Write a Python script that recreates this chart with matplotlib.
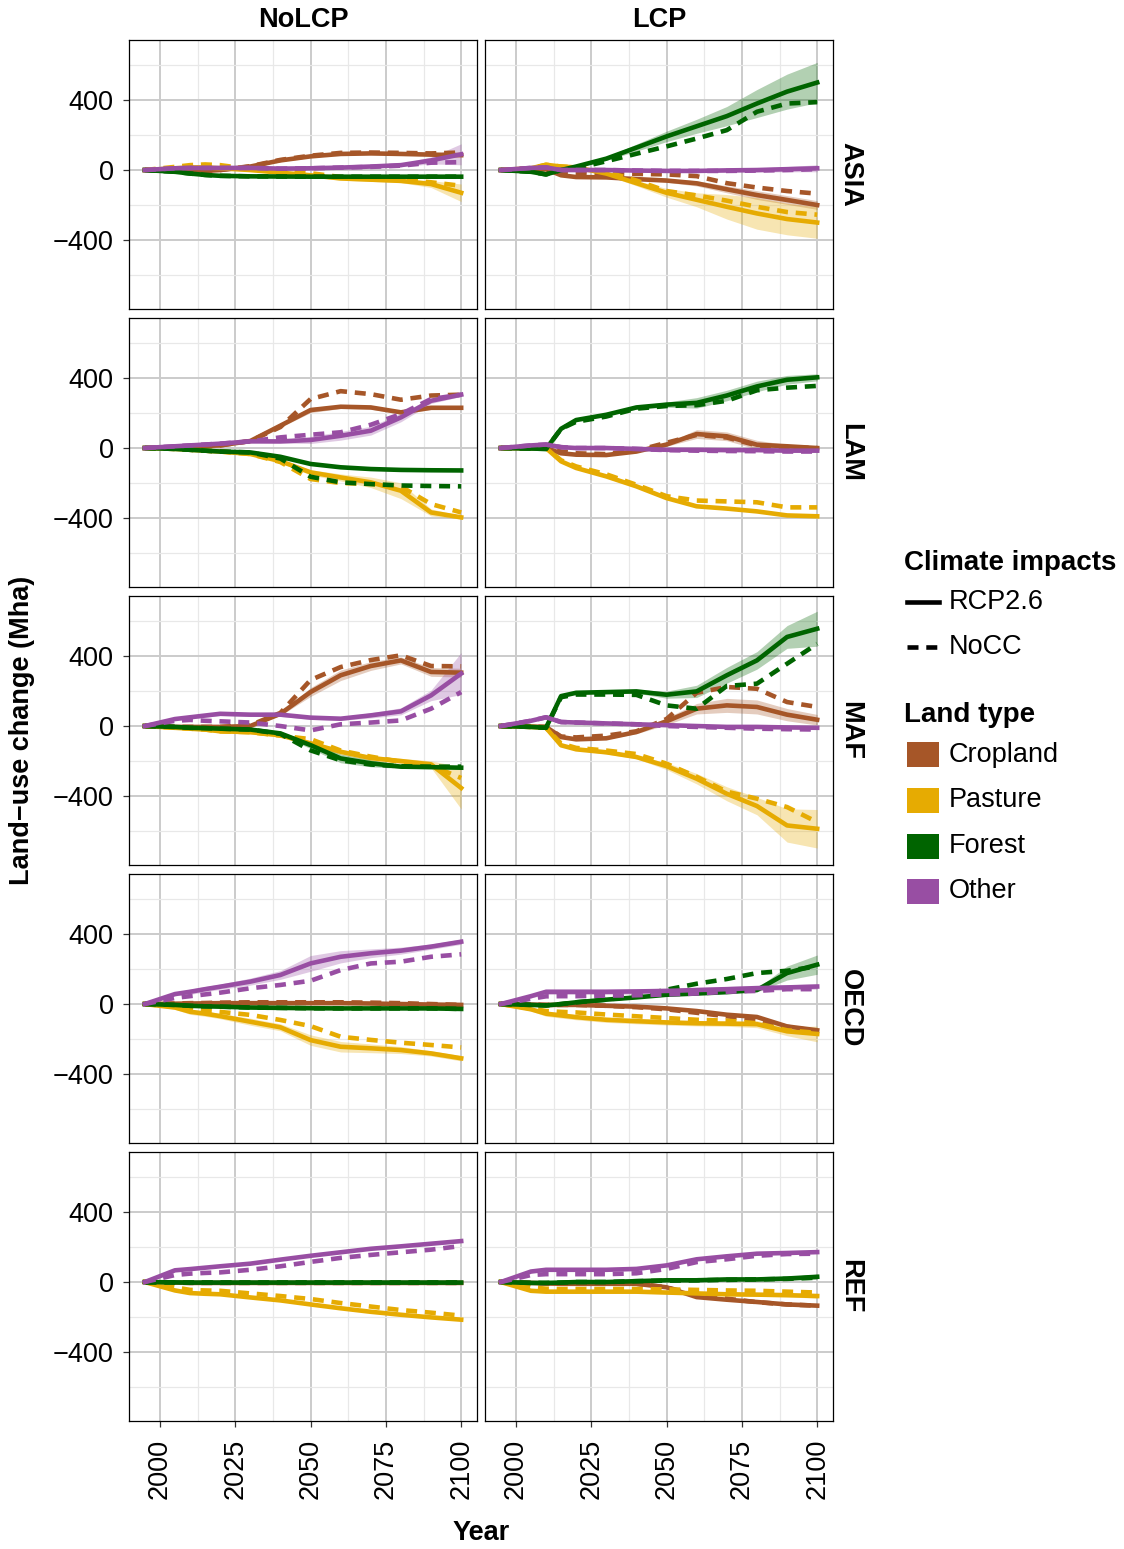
import matplotlib
matplotlib.use("Agg")
import matplotlib.pyplot as plt
from matplotlib.lines import Line2D
from matplotlib.patches import Rectangle

plt.rcParams['font.family'] = ['Liberation Sans', 'DejaVu Sans']

years = [1995, 2005, 2010, 2015, 2020, 2030, 2040, 2050, 2060, 2070, 2080, 2090, 2100]
regions = ["ASIA", "LAM", "MAF", "OECD", "REF"]
policies = ["NoLCP", "LCP"]
land_types = ["Cropland", "Pasture", "Forest", "Other"]
land_colors = ["#A65628", "#E6AB02", "#006400", "#984EA3"]
climates = ["RCP2.6", "NoCC"]

# values in Mha, keyed by (land type, climate)
asia_nolcp = {
    ("Cropland", "RCP2.6"): [0, 0, -5, -5, 0, 20, 55, 78, 92, 95, 92, 88, 85],
    ("Cropland", "NoCC"):   [0, 0, -5, -5, 0, 22, 58, 82, 98, 100, 98, 95, 100],
    ("Pasture", "RCP2.6"):  [0, 10, 15, 15, 10, 0, -15, -30, -48, -55, -62, -80, -130],
    ("Pasture", "NoCC"):    [0, 18, 28, 32, 28, 5, -8, -18, -40, -50, -55, -70, -90],
    ("Forest", "RCP2.6"):   [0, -10, -20, -28, -33, -36, -37, -38, -38, -38, -38, -38, -38],
    ("Forest", "NoCC"):     [0, -10, -20, -28, -33, -36, -37, -38, -38, -38, -38, -38, -38],
    ("Other", "RCP2.6"):    [0, 10, 12, 12, 12, 12, 8, 10, 14, 20, 28, 55, 90],
    ("Other", "NoCC"):      [0, 10, 12, 12, 12, 12, 8, 10, 14, 18, 25, 42, 45],
}
asia_lcp = {
    ("Cropland", "RCP2.6"): [0, 5, 5, -30, -40, -42, -52, -60, -76, -110, -143, -171, -200],
    ("Cropland", "NoCC"):   [0, 5, 5, -10, -15, -20, -22, -25, -35, -75, -100, -120, -135],
    ("Pasture", "RCP2.6"):  [0, 10, 30, 20, 15, -20, -75, -130, -170, -210, -248, -280, -300],
    ("Pasture", "NoCC"):    [0, 10, 30, 20, 15, -10, -60, -120, -145, -175, -210, -240, -255],
    ("Forest", "RCP2.6"):   [0, -10, -25, 0, 20, 65, 128, 192, 250, 308, 380, 448, 500],
    ("Forest", "NoCC"):     [0, -10, -25, 0, 10, 50, 93, 135, 180, 228, 333, 380, 388],
    ("Other", "RCP2.6"):    [0, 12, 15, 0, 0, 0, -3, -5, -5, -2, 0, 5, 10],
    ("Other", "NoCC"):      [0, 12, 15, 0, 0, 0, -3, -5, -5, -5, -3, 0, 5],
}
lam_nolcp = {
    ("Cropland", "RCP2.6"): [0, 5, 10, 12, 15, 40, 128, 217, 236, 232, 204, 230, 230],
    ("Cropland", "NoCC"):   [0, 5, 10, 12, 15, 40, 120, 280, 325, 308, 276, 300, 305],
    ("Pasture", "RCP2.6"):  [0, -5, -10, -15, -20, -34, -75, -139, -168, -196, -244, -368, -396],
    ("Pasture", "NoCC"):    [0, -5, -10, -15, -20, -34, -80, -177, -200, -205, -220, -320, -368],
    ("Forest", "RCP2.6"):   [0, -5, -10, -15, -20, -25, -50, -91, -110, -120, -125, -127, -128],
    ("Forest", "NoCC"):     [0, -5, -10, -15, -20, -25, -60, -164, -196, -206, -214, -217, -219],
    ("Other", "RCP2.6"):    [0, 10, 15, 20, 25, 38, 38, 46, 70, 99, 175, 270, 305],
    ("Other", "NoCC"):      [0, 10, 15, 20, 25, 38, 61, 76, 90, 133, 194, 280, 305],
}
lam_lcp = {
    ("Cropland", "RCP2.6"): [0, 0, 0, -30, -38, -40, -20, 20, 80, 67, 19, 10, 0],
    ("Cropland", "NoCC"):   [0, 0, 0, -20, -30, -35, -15, 30, 75, 60, 15, 5, 0],
    ("Pasture", "RCP2.6"):  [0, 0, 0, -76, -114, -162, -219, -286, -333, -346, -362, -385, -390],
    ("Pasture", "NoCC"):    [0, 0, 0, -70, -105, -150, -210, -275, -300, -305, -310, -339, -339],
    ("Forest", "RCP2.6"):   [0, -3, -5, 110, 160, 190, 232, 248, 258, 300, 352, 390, 404],
    ("Forest", "NoCC"):     [0, -3, -5, 110, 150, 180, 225, 240, 245, 270, 330, 345, 355],
    ("Other", "RCP2.6"):    [0, 15, 20, 5, 0, 0, -5, -10, -10, -12, -12, -15, -15],
    ("Other", "NoCC"):      [0, 15, 20, 5, 0, 0, -5, -12, -15, -17, -18, -20, -20],
}
maf_nolcp = {
    ("Cropland", "RCP2.6"): [0, -5, -5, -5, -5, 0, 70, 194, 290, 343, 375, 309, 305],
    ("Cropland", "NoCC"):   [0, -5, -5, -5, -5, 5, 75, 263, 337, 377, 404, 343, 341],
    ("Pasture", "RCP2.6"):  [0, -10, -15, -20, -30, -35, -53, -99, -147, -183, -200, -219, -354],
    ("Pasture", "NoCC"):    [0, -10, -15, -20, -30, -35, -55, -75, -140, -175, -205, -225, -297],
    ("Forest", "RCP2.6"):   [0, -5, -10, -12, -15, -20, -42, -109, -185, -213, -232, -235, -238],
    ("Forest", "NoCC"):     [0, -5, -10, -12, -15, -20, -45, -139, -196, -220, -230, -232, -232],
    ("Other", "RCP2.6"):    [0, 40, 50, 60, 70, 65, 65, 48, 42, 61, 84, 175, 300],
    ("Other", "NoCC"):      [0, 30, 35, 30, 27, 20, 0, -25, 10, 20, 32, 99, 194],
}
maf_lcp = {
    ("Cropland", "RCP2.6"): [0, -3, -5, -63, -76, -70, -34, 27, 99, 118, 109, 65, 36],
    ("Cropland", "NoCC"):   [0, -3, -5, -60, -65, -55, -30, 40, 190, 223, 213, 137, 109],
    ("Pasture", "RCP2.6"):  [0, -5, -10, -110, -133, -150, -177, -229, -301, -387, -457, -568, -587],
    ("Pasture", "NoCC"):    [0, -5, -10, -100, -125, -140, -160, -215, -290, -375, -415, -463, -549],
    ("Forest", "RCP2.6"):   [0, -5, -10, 171, 190, 194, 198, 179, 198, 290, 375, 509, 556],
    ("Forest", "NoCC"):     [0, -5, -10, 165, 180, 180, 178, 118, 99, 229, 242, 356, 470],
    ("Other", "RCP2.6"):    [0, 30, 50, 23, 20, 15, 10, 5, 0, -5, -5, -8, -10],
    ("Other", "NoCC"):      [0, 30, 50, 23, 20, 15, 10, 0, -5, -10, -15, -18, -20],
}
oecd_nolcp = {
    ("Cropland", "RCP2.6"): [0, 2, 3, 4, 5, 5, 5, 5, 5, 3, 0, -3, -5],
    ("Cropland", "NoCC"):   [0, 3, 5, 6, 8, 10, 10, 10, 10, 8, 5, 0, -5],
    ("Pasture", "RCP2.6"):  [0, -20, -44, -55, -69, -101, -133, -206, -244, -253, -263, -282, -310],
    ("Pasture", "NoCC"):    [0, -15, -30, -38, -45, -62, -91, -126, -187, -205, -221, -234, -248],
    ("Forest", "RCP2.6"):   [0, -5, -10, -13, -15, -20, -22, -24, -25, -25, -25, -25, -28],
    ("Forest", "NoCC"):     [0, -5, -10, -13, -15, -20, -22, -24, -25, -25, -25, -25, -28],
    ("Other", "RCP2.6"):    [0, 57, 70, 85, 99, 128, 166, 232, 270, 290, 305, 328, 356],
    ("Other", "NoCC"):      [0, 35, 45, 55, 65, 90, 109, 133, 194, 232, 242, 270, 284],
}
oecd_lcp = {
    ("Cropland", "RCP2.6"): [0, -3, -5, -5, -5, -10, -15, -25, -40, -61, -74, -128, -150],
    ("Cropland", "NoCC"):   [0, -3, -5, -5, -5, -10, -18, -30, -50, -70, -90, -130, -155],
    ("Pasture", "RCP2.6"):  [0, -30, -55, -65, -75, -90, -98, -105, -110, -112, -115, -156, -171],
    ("Pasture", "NoCC"):    [0, -25, -40, -45, -48, -60, -70, -80, -90, -95, -110, -150, -165],
    ("Forest", "RCP2.6"):   [0, -5, -8, 0, 10, 25, 38, 53, 60, 68, 80, 177, 225],
    ("Forest", "NoCC"):     [0, -5, -8, 0, 10, 25, 45, 82, 116, 143, 177, 190, 215],
    ("Other", "RCP2.6"):    [0, 45, 70, 70, 70, 70, 72, 75, 80, 85, 91, 95, 100],
    ("Other", "NoCC"):      [0, 30, 44, 45, 45, 48, 50, 55, 60, 70, 75, 85, 85],
}
ref_nolcp = {
    ("Cropland", "RCP2.6"): [0, -3, -5, -5, -5, -5, -5, -5, -5, -5, -5, -5, -5],
    ("Cropland", "NoCC"):   [0, -3, -5, -5, -5, -5, -5, -5, -5, -5, -5, -5, -5],
    ("Pasture", "RCP2.6"):  [0, -48, -63, -67, -70, -88, -105, -128, -150, -170, -187, -202, -215],
    ("Pasture", "NoCC"):    [0, -30, -45, -48, -50, -65, -80, -97, -120, -140, -160, -175, -192],
    ("Forest", "RCP2.6"):   [0, -2, -3, -3, -3, -3, -3, -3, -3, -3, -3, -3, -3],
    ("Forest", "NoCC"):     [0, 0, 0, 0, 0, 0, 0, 0, 0, 0, 0, 0, 0],
    ("Other", "RCP2.6"):    [0, 67, 74, 82, 90, 105, 128, 150, 170, 190, 204, 219, 234],
    ("Other", "NoCC"):      [0, 40, 48, 52, 55, 70, 90, 115, 138, 155, 170, 185, 206],
}
ref_lcp = {
    ("Cropland", "RCP2.6"): [0, -5, -8, -10, -10, -10, -10, -30, -86, -101, -114, -128, -135],
    ("Cropland", "NoCC"):   [0, -5, -8, -10, -10, -10, -10, -30, -75, -95, -115, -128, -135],
    ("Pasture", "RCP2.6"):  [0, -50, -55, -55, -55, -55, -55, -60, -65, -70, -72, -75, -80],
    ("Pasture", "NoCC"):    [0, -30, -38, -40, -40, -40, -40, -42, -45, -48, -50, -55, -60],
    ("Forest", "RCP2.6"):   [0, -5, -5, -3, 0, 0, 5, 10, 10, 15, 15, 20, 30],
    ("Forest", "NoCC"):     [0, -5, -5, -3, 0, 0, 5, 8, 10, 12, 15, 18, 25],
    ("Other", "RCP2.6"):    [0, 60, 70, 70, 70, 70, 75, 95, 130, 147, 162, 166, 171],
    ("Other", "NoCC"):      [0, 40, 45, 45, 45, 45, 50, 75, 114, 130, 150, 160, 162],
}

# half width of the uncertainty band around the RCP2.6 lines
bands = {
    ("ASIA", "NoLCP", "Pasture"): [0, 5, 5, 5, 5, 5, 5, 8, 10, 10, 10, 20, 50],
    ("ASIA", "NoLCP", "Other"):   [0, 5, 5, 5, 5, 5, 5, 5, 5, 5, 8, 20, 60],
    ("ASIA", "LCP", "Forest"):    [0, 3, 5, 5, 5, 10, 20, 30, 40, 55, 80, 100, 115],
    ("ASIA", "LCP", "Cropland"):  [0, 3, 3, 5, 5, 5, 5, 10, 15, 20, 25, 25, 25],
    ("ASIA", "LCP", "Pasture"):   [0, 3, 5, 5, 5, 10, 15, 25, 40, 70, 90, 90, 90],
    ("ASIA", "LCP", "Other"):     [0, 3, 3, 3, 3, 5, 5, 5, 8, 10, 12, 15, 20],
    ("LAM", "NoLCP", "Cropland"): [0, 3, 3, 3, 3, 5, 10, 15, 10, 10, 10, 10, 10],
    ("LAM", "NoLCP", "Other"):    [0, 3, 3, 3, 3, 5, 10, 20, 25, 25, 25, 15, 10],
    ("LAM", "NoLCP", "Pasture"):  [0, 3, 3, 3, 3, 5, 10, 15, 20, 30, 45, 20, 10],
    ("LAM", "LCP", "Forest"):     [0, 3, 3, 5, 5, 5, 10, 15, 30, 30, 30, 25, 20],
    ("LAM", "LCP", "Cropland"):   [0, 3, 3, 3, 3, 5, 5, 10, 25, 25, 25, 10, 5],
    ("MAF", "NoLCP", "Cropland"): [0, 3, 3, 3, 3, 5, 10, 25, 30, 25, 20, 25, 25],
    ("MAF", "NoLCP", "Other"):    [0, 5, 10, 10, 10, 10, 10, 10, 10, 15, 20, 30, 120],
    ("MAF", "NoLCP", "Pasture"):  [0, 5, 10, 10, 10, 10, 10, 15, 15, 15, 15, 20, 120],
    ("MAF", "NoLCP", "Forest"):   [0, 3, 3, 3, 3, 5, 10, 20, 25, 20, 10, 5, 5],
    ("MAF", "LCP", "Forest"):     [0, 3, 3, 5, 5, 10, 10, 20, 35, 45, 50, 65, 100],
    ("MAF", "LCP", "Pasture"):    [0, 3, 3, 5, 5, 10, 10, 20, 30, 40, 50, 95, 110],
    ("MAF", "LCP", "Cropland"):   [0, 3, 3, 5, 5, 5, 10, 20, 30, 40, 40, 35, 30],
    ("OECD", "NoLCP", "Other"):   [0, 10, 15, 15, 15, 20, 25, 45, 35, 25, 20, 15, 15],
    ("OECD", "NoLCP", "Pasture"): [0, 10, 15, 15, 15, 20, 20, 30, 30, 25, 20, 15, 15],
    ("OECD", "LCP", "Forest"):    [0, 3, 3, 3, 3, 5, 5, 5, 5, 5, 10, 40, 55],
    ("OECD", "LCP", "Pasture"):   [0, 10, 15, 15, 15, 15, 15, 15, 15, 15, 20, 25, 45],
    ("OECD", "LCP", "Other"):     [0, 10, 15, 15, 15, 15, 15, 15, 15, 15, 15, 15, 15],
    ("REF", "LCP", "Forest"):     [0, 3, 3, 3, 3, 3, 5, 5, 5, 5, 8, 10, 15],
    ("REF", "LCP", "Pasture"):    [0, 5, 8, 8, 8, 8, 8, 8, 8, 8, 10, 10, 12],
}

panel_data = {
    ("ASIA", "NoLCP"): asia_nolcp, ("ASIA", "LCP"): asia_lcp,
    ("LAM", "NoLCP"): lam_nolcp, ("LAM", "LCP"): lam_lcp,
    ("MAF", "NoLCP"): maf_nolcp, ("MAF", "LCP"): maf_lcp,
    ("OECD", "NoLCP"): oecd_nolcp, ("OECD", "LCP"): oecd_lcp,
    ("REF", "NoLCP"): ref_nolcp, ("REF", "LCP"): ref_lcp,
}

W, H = 1124, 1549
FS = 19.5
fig = plt.figure(figsize=(W / 100, H / 100), dpi=100)

def fx(px):
    return px / W

def fy(py):
    return 1 - py / H

col_left = [129, 485]
panel_w = 348
row_top = [40, 318, 596, 874, 1152]
panel_h = 269

DASH = [2.4, 1.7]
LW = 3.3

for i, reg in enumerate(regions):
    for j, pol in enumerate(policies):
        ax = fig.add_axes([fx(col_left[j]), fy(row_top[i] + panel_h), panel_w / W, panel_h / H])
        data = panel_data[(reg, pol)]
        for lt, col in zip(land_types, land_colors):
            b = bands.get((reg, pol, lt))
            if b is not None:
                y = data[(lt, "RCP2.6")]
                ax.fill_between(years, [v - d for v, d in zip(y, b)], [v + d for v, d in zip(y, b)],
                                color=col, alpha=0.3, lw=0, zorder=2)
        for lt, col in zip(land_types, land_colors):
            ax.plot(years, data[(lt, "RCP2.6")], color=col, lw=LW, zorder=3)
            ln, = ax.plot(years, data[(lt, "NoCC")], color=col, lw=LW, zorder=3)
            ln.set_dashes(DASH)
        ax.set_xlim(1989.75, 2105.25)
        ax.set_ylim(-794, 743)
        ax.set_xticks([2000, 2025, 2050, 2075, 2100])
        ax.set_xticks([2012.5, 2037.5, 2062.5, 2087.5], minor=True)
        ax.set_yticks([-400, 0, 400])
        ax.set_yticks([-600, -200, 200, 600], minor=True)
        ax.grid(True, which='major', color='#CBCBCB', lw=1.4, zorder=0)
        ax.grid(True, which='minor', color='#E8E8E8', lw=0.9, zorder=0)
        ax.set_axisbelow(True)
        for s in ax.spines.values():
            s.set_color('black')
            s.set_linewidth(0.9)
            s.set_zorder(5)
        ax.tick_params(which='minor', length=0)
        ax.tick_params(which='major', length=4, width=0.9, color='#333333', labelsize=FS)
        ax.tick_params(axis='y', pad=7)
        ax.tick_params(axis='x', pad=9)
        if j == 0:
            ax.set_yticklabels(['\u2212400', '0', '400'])
        else:
            ax.tick_params(axis='y', length=0, labelleft=False)
        if i == len(regions) - 1:
            ax.set_xticklabels(['2000', '2025', '2050', '2075', '2100'], rotation=90)
        else:
            ax.tick_params(axis='x', length=0, labelbottom=False)

# facet strips
for j, pol in enumerate(policies):
    fig.text(fx(col_left[j] + panel_w / 2), fy(20), pol, ha='center', va='center',
             fontsize=FS, fontweight='bold')
for i, reg in enumerate(regions):
    fig.text(fx(850), fy(row_top[i] + panel_h / 2), reg, rotation=-90, ha='center', va='center',
             fontsize=FS, fontweight='bold')

fig.text(fx(22), fy(730), 'Land\u2212use change (Mha)', rotation=90, ha='center', va='center',
         fontsize=FS, fontweight='bold')
fig.text(fx(481), fy(1533), 'Year', ha='center', va='center', fontsize=FS, fontweight='bold')

# legends
fig.text(fx(904), fy(563), 'Climate impacts', ha='left', va='center', fontsize=FS + 0.5, fontweight='bold')
clim_y = [602, 647]
for k, lab in enumerate(climates):
    ln = Line2D([fx(907), fx(939)], [fy(clim_y[k]), fy(clim_y[k])], color='black', lw=LW,
                transform=fig.transFigure)
    if lab == "NoCC":
        ln.set_dashes(DASH)
    fig.add_artist(ln)
    fig.text(fx(949), fy(clim_y[k]), lab, ha='left', va='center', fontsize=FS)

fig.text(fx(904), fy(715), 'Land type', ha='left', va='center', fontsize=FS + 0.5, fontweight='bold')
land_y = [755, 800, 846, 891]
for k, (lab, col) in enumerate(zip(land_types, land_colors)):
    fig.add_artist(Rectangle((fx(907), fy(land_y[k] + 12.5)), 32 / W, 25 / H, facecolor=col,
                             edgecolor='none', transform=fig.transFigure))
    fig.text(fx(949), fy(land_y[k]), lab, ha='left', va='center', fontsize=FS)

fig.savefig('out.png', dpi=100)
